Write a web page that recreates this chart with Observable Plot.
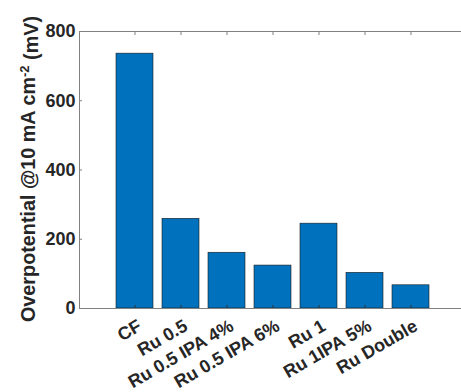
<!DOCTYPE html>
<html>
<head>
<meta charset="utf-8">
<script src="https://cdn.jsdelivr.net/npm/d3@7"></script>
<script src="https://cdn.jsdelivr.net/npm/@observablehq/plot@0.6"></script>
<style>
  body { margin: 0; background: #fff; }
  #chart svg { overflow: hidden; }
</style>
</head>
<body>
<div id="chart"></div>
<script>
const categories = ["CF", "Ru 0.5", "Ru 0.5 IPA 4%", "Ru 0.5 IPA 6%", "Ru 1", "Ru 1IPA 5%", "Ru Double"];
const overpotential = [736, 259, 161, 124, 245, 103, 67];
const yTicks = [0, 200, 400, 600, 800];

const data = categories.map((c, i) => ({category: c, value: overpotential[i]}));

const W = 461, H = 392;
const font = "'Liberation Sans', Arial, sans-serif";
const textColor = "#262626";
const axisColor = "#808080";

const plot = Plot.plot({
  width: W,
  height: H,
  marginTop: 31,
  marginBottom: 84,
  marginLeft: 79,
  marginRight: 0,
  style: {fontFamily: font, fontSize: "18px", fontWeight: "bold", color: textColor, background: "#fff"},
  x: {domain: categories, range: [79, 466], paddingInner: 0.2, paddingOuter: 0.75, label: null},
  y: {domain: [0, 800], label: null},
  marks: [
    Plot.barY(data, {x: "category", y: "value", fill: "#0072BD", stroke: "#1a1a1a", strokeWidth: 0.6}),
    Plot.frame({stroke: axisColor, strokeWidth: 1}),
    Plot.axisY({ticks: yTicks, tickSize: -3, stroke: axisColor, tickPadding: 7, fill: textColor, fontSize: 18, fontWeight: "bold", label: null}),
    Plot.axisX({anchor: "top", tickSize: -3, stroke: axisColor, tickFormat: () => "", label: null}),
    Plot.axisX({anchor: "bottom", tickSize: -3, stroke: "#333", tickFormat: () => "", label: null}),
    Plot.text(categories, {
      x: d => d, text: d => d, frameAnchor: "bottom",
      rotate: -30, textAnchor: "end", lineAnchor: "middle",
      dx: 5, dy: 16, fill: textColor, fontSize: 18, fontWeight: "bold"
    })
  ]
});

document.getElementById("chart").appendChild(plot);

// y-axis title with superscript
const svg = d3.select(plot);
const t = svg.append("text")
  .attr("transform", `translate(35, 169) rotate(-90)`)
  .attr("text-anchor", "middle")
  .attr("fill", textColor)
  .style("font-family", font)
  .style("font-weight", "bold")
  .style("font-size", "19.8px");
t.append("tspan").text("Overpotential @10 mA cm");
t.append("tspan").attr("dy", "-0.5em").style("font-size", "13px").text("-2");
t.append("tspan").attr("dy", "0.5em").text(" (mV)");
</script>
</body>
</html>
